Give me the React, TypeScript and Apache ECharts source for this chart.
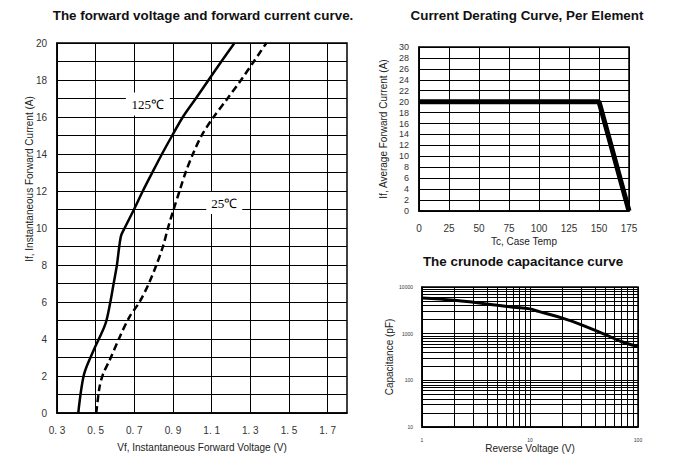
import { useEffect, useRef } from 'react';
import * as echarts from 'echarts';

// ---- Forward voltage / forward current ----
const fvTitle = 'The forward voltage and forward current curve.';
const vf125 = [0.41, 0.44, 0.49, 0.55, 0.576, 0.593, 0.61, 0.622, 0.632, 0.65, 0.698, 0.744, 0.793, 0.843, 0.896, 0.951, 1.018, 1.084, 1.15, 1.218];
const if125 = [0, 2.1, 3.4, 4.8, 6, 7, 8, 9, 9.6, 10, 11, 12, 13, 14, 15, 16, 17, 18, 19, 20];
const vf25 = [0.503, 0.52, 0.538, 0.572, 0.624, 0.675, 0.727, 0.775, 0.814, 0.848, 0.874, 0.903, 0.934, 0.965, 1.003, 1.048, 1.11, 1.182, 1.252, 1.318, 1.383];
const if25 = [0, 1.4, 2.1, 2.85, 4.1, 5.2, 6, 7, 8, 9, 10, 11, 12, 13, 14, 15, 16, 17, 18, 19, 20];
const vfTicks = [0.3, 0.5, 0.7, 0.9, 1.1, 1.3, 1.5, 1.7];
const ifLabels = [0, 2, 4, 6, 8, 10, 12, 14, 16, 18, 20];
const label125 = '125℃';
const label125At = [0.77, 16.7];
const label25 = '25℃';
const label25At = [1.165, 11.35];

// ---- Current derating ----
const derTitle = 'Current Derating Curve, Per Element';
const tcValues = [0, 150, 175];
const ifAvgValues = [20, 20, 0];

// ---- Capacitance ----
const capTitle = 'The crunode capacitance curve';
const vrValues = [1, 2, 3, 5, 7, 10, 12, 20, 30, 50, 70, 100];
const capValues = [5800, 5200, 4700, 4050, 3700, 3400, 3000, 2150, 1550, 950, 680, 530];
const vrLabels = [1, 10, 100];
const capLabels = [10, 100, 1000, 10000];
const logMultipliers = [1, 2, 3, 4, 5, 6, 7, 8, 9];
const vrDecades = [1, 10];
const capDecades = [10, 100, 1000];

const logGrid = (decades: number[], last: number) => {
  const out: number[] = [];
  decades.forEach((d) => logMultipliers.forEach((m) => out.push(d * m)));
  out.push(last);
  return out;
};

const FONT = '"Liberation Sans", Arial, sans-serif';

export default function App() {
  const ref = useRef<HTMLDivElement>(null);
  useEffect(() => {
    document.body.style.margin = '0';
    if (!ref.current) return;
    const chart = echarts.init(ref.current, undefined, { renderer: 'svg' });
    const black = '#000';
    const split = { show: true, lineStyle: { color: black, width: 1 } };
    const axisLine = { show: true, lineStyle: { color: black, width: 1.5 } };
    const gridBase = { show: true, borderColor: black, borderWidth: 1.5, backgroundColor: 'transparent' };
    const titleStyle = (text: string) => ({
      text,
      font: `bold 13.4px ${FONT}`,
      fill: '#111',
      align: 'center',
      verticalAlign: 'middle',
    });
    const plain = (v: number) => String(v);

    const option: any = {
      animation: false,
      backgroundColor: '#fff',
      textStyle: { fontFamily: FONT },
      graphic: [
        { type: 'text', x: 203, y: 15, style: titleStyle(fvTitle) },
        { type: 'text', x: 527, y: 15, style: titleStyle(derTitle) },
        { type: 'text', x: 523, y: 261, style: titleStyle(capTitle) },
        {
          type: 'text',
          x: 29,
          y: 179,
          rotation: Math.PI / 2,
          style: {
            text: 'If, Instantaneous Forward Current (A)',
            font: `10px ${FONT}`,
            fill: '#222',
            align: 'center',
            verticalAlign: 'middle',
          },
        },
      ],
      grid: [
        { ...gridBase, left: 57, top: 43, width: 290, height: 370 },
        { ...gridBase, left: 419, top: 47, width: 210, height: 164 },
        { ...gridBase, left: 422, top: 287, width: 216, height: 140 },
      ],
      xAxis: [
        {
          gridIndex: 0,
          type: 'value',
          min: 0.3,
          max: 1.8,
          axisLine,
          axisTick: { show: false, customValues: vfTicks },
          axisLabel: {
            customValues: vfTicks,
            formatter: (v: number) => v.toFixed(1).replace('.', '. '),
            color: '#333',
            fontSize: 10,
            margin: 12,
          },
          splitLine: split,
          name: 'Vf, Instantaneous Forward Voltage (V)',
          nameLocation: 'middle',
          nameGap: 29,
          nameTextStyle: { color: '#222', fontSize: 10 },
        },
        {
          gridIndex: 1,
          type: 'value',
          min: 0,
          max: 175,
          interval: 25,
          axisLine,
          axisTick: { show: false },
          axisLabel: { color: '#333', fontSize: 10, margin: 12 },
          splitLine: split,
          name: 'Tc, Case Temp',
          nameLocation: 'middle',
          nameGap: 25,
          nameTextStyle: { color: '#222', fontSize: 10 },
        },
        {
          gridIndex: 2,
          type: 'log',
          logBase: 10,
          min: 1,
          max: 100,
          axisLine,
          axisTick: { show: false, customValues: logGrid(vrDecades, 100) },
          axisLabel: { customValues: vrLabels, formatter: plain, color: '#333', fontSize: 5, margin: 10 },
          splitLine: split,
          minorSplitLine: { show: false },
          name: 'Reverse Voltage (V)',
          nameLocation: 'middle',
          nameGap: 16,
          nameTextStyle: { color: '#222', fontSize: 10 },
        },
      ],
      yAxis: [
        {
          gridIndex: 0,
          type: 'value',
          min: 0,
          max: 20,
          interval: 1,
          axisLine,
          axisTick: { show: false },
          axisLabel: { customValues: ifLabels, color: '#333', fontSize: 10, margin: 10 },
          splitLine: split,
        },
        {
          gridIndex: 1,
          type: 'value',
          min: 0,
          max: 30,
          interval: 2,
          axisLine,
          axisTick: { show: false },
          axisLabel: { color: '#333', fontSize: 9, margin: 10 },
          splitLine: split,
          name: 'If, Average Forward Current (A)',
          nameLocation: 'middle',
          nameGap: 31,
          nameTextStyle: { color: '#222', fontSize: 10 },
        },
        {
          gridIndex: 2,
          type: 'log',
          logBase: 10,
          min: 10,
          max: 10000,
          axisLine,
          axisTick: { show: false, customValues: logGrid(capDecades, 10000) },
          axisLabel: { customValues: capLabels, formatter: plain, color: '#333', fontSize: 5, margin: 9 },
          splitLine: split,
          name: 'Capacitance (pF)',
          nameLocation: 'middle',
          nameGap: 28,
          nameTextStyle: { color: '#222', fontSize: 10 },
        },
      ],
      series: [
        {
          type: 'line',
          xAxisIndex: 0,
          yAxisIndex: 0,
          data: vf125.map((v, i) => [v, if125[i]]),
          smooth: 0.3,
          symbol: 'none',
          lineStyle: { color: black, width: 2.5 },
          markPoint: {
            symbol: 'rect',
            symbolSize: [44, 23],
            itemStyle: { color: '#fff' },
            label: {
              show: true,
              position: 'inside',
              formatter: label125,
              color: '#000',
              fontFamily: '"Liberation Serif", serif',
              fontSize: 13,
            },
            data: [{ coord: label125At }],
          },
        },
        {
          type: 'line',
          xAxisIndex: 0,
          yAxisIndex: 0,
          data: vf25.map((v, i) => [v, if25[i]]),
          smooth: 0.3,
          symbol: 'none',
          lineStyle: { color: black, width: 2.5, type: [7, 4] },
          markPoint: {
            symbol: 'rect',
            symbolSize: [36, 22],
            itemStyle: { color: '#fff' },
            label: {
              show: true,
              position: 'inside',
              formatter: label25,
              color: '#000',
              fontFamily: '"Liberation Serif", serif',
              fontSize: 13,
            },
            data: [{ coord: label25At }],
          },
        },
        {
          type: 'line',
          xAxisIndex: 1,
          yAxisIndex: 1,
          data: tcValues.map((t, i) => [t, ifAvgValues[i]]),
          symbol: 'none',
          lineStyle: { color: black, width: 5 },
        },
        {
          type: 'line',
          xAxisIndex: 2,
          yAxisIndex: 2,
          data: vrValues.map((v, i) => [v, capValues[i]]),
          smooth: 0.4,
          symbol: 'none',
          lineStyle: { color: black, width: 3 },
        },
      ],
    };
    chart.setOption(option);
    return () => chart.dispose();
  }, []);
  return <div ref={ref} style={{ width: 700, height: 466 }} />;
}
